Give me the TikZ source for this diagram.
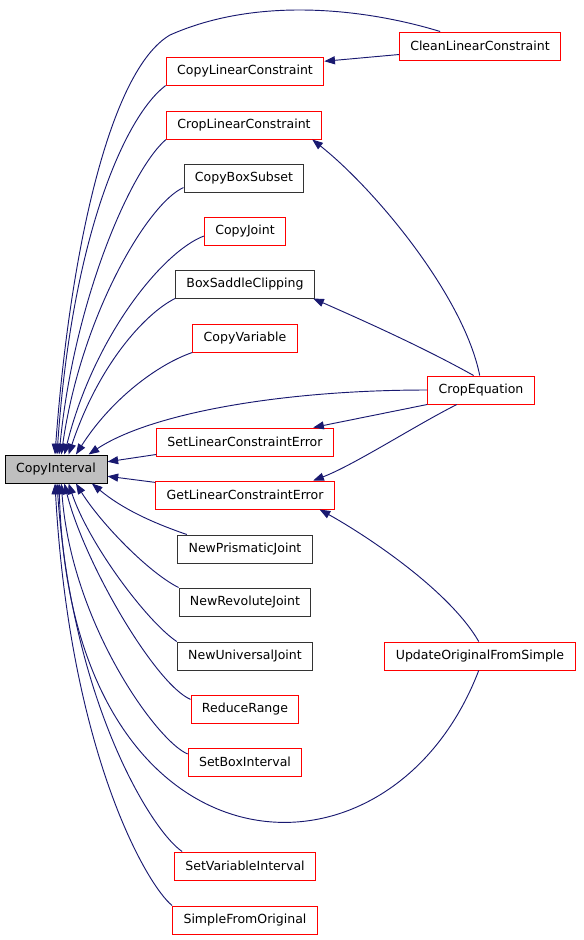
\documentclass[tikz,border=0pt]{standalone}
\usepackage{fontspec}
\setmainfont{DejaVu Sans}
\usetikzlibrary{arrows.meta, positioning}
\definecolor{callblue}{HTML}{191970}
\tikzset{
  >={Triangle[length=8pt,width=6pt]}, % filled doxygen style heads
  func/.style={draw=red, fill=white, rectangle, line width=0.75pt,
    minimum height=21pt, inner xsep=8.2pt,
    font=\fontsize{9.4}{11}\selectfont}, % a caller, red when documented
  plain/.style={func, draw=black!80}, % a caller with no doc page
  call/.style={->, draw=callblue, line width=0.7pt}, % a call edge
}

\begin{document}
\begin{tikzpicture}[x=0.75pt, y=-0.75pt]
  \useasboundingbox (0,0) rectangle (584,940);

  \node[func, draw=black, fill=black!25, minimum width=76.5pt] (copyinterval) at (56,469) {CopyInterval};

  \node[func] (cleanlin) at (480,46) {CleanLinearConstraint};
  \node[func] (copylin) at (245,71) {CopyLinearConstraint};
  \node[func] (croplin) at (244,125) {CropLinearConstraint};
  \node[plain] (copybox) at (244,178) {CopyBoxSubset};
  \node[func] (copyjoint) at (245,231) {CopyJoint};
  \node[plain] (boxsaddle) at (245,284) {BoxSaddleClipping};
  \node[func] (copyvar) at (245,338) {CopyVariable};
  \node[func] (cropeq) at (481,390) {CropEquation};
  \node[func] (setlin) at (245,442) {SetLinearConstraintError};
  \node[func] (getlin) at (245,495) {GetLinearConstraintError};
  \node[plain] (newprism) at (245,549) {NewPrismaticJoint};
  \node[plain] (newrev) at (245,602) {NewRevoluteJoint};
  \node[plain] (newuni) at (245,656) {NewUniversalJoint};
  \node[func] (updsimple) at (480,656) {UpdateOriginalFromSimple};
  \node[func] (reduce) at (245,709) {ReduceRange};
  \node[func] (setbox) at (245,762) {SetBoxInterval};
  \node[func] (setvar) at (245,866) {SetVariableInterval};
  \node[func] (simplefrom) at (245,920) {SimpleFromOriginal};

  % callers above CopyInterval
  \draw[call] (cleanlin.160) .. controls (370,10) and (260,-5) .. (170,35)
    .. controls (110,70) and (70,250) .. (copyinterval.94);
  \draw[call] (copylin.south west) .. controls +(-40,30) and +(15,-220) .. (copyinterval.86);
  \draw[call] (croplin.south west) .. controls +(-35,30) and +(15,-155) .. (copyinterval.78);
  \draw[call] (copybox.189) .. controls +(-35,15) and +(20,-140) .. (copyinterval.70);
  \draw[call] (copyjoint.187) .. controls +(-40,15) and +(30,-120) .. (copyinterval.60);
  \draw[call] (boxsaddle.south west) .. controls +(-30,15) and +(30,-90) .. (copyinterval.49);
  \draw[call] (copyvar.south west) .. controls +(-35,12) and +(35,-55) .. (copyinterval.36);
  \draw[call] (cropeq.west) .. controls +(-150,0) and +(60,-40) .. (copyinterval.24);
  \draw[call] (setlin.188) -- (copyinterval.8);
  \draw[call] (getlin.172) -- (copyinterval.352);

  % callers below CopyInterval
  \draw[call] (newprism.166) .. controls +(-35,-12) and +(30,25) .. (copyinterval.338);
  \draw[call] (newrev.north west) .. controls +(-30,-15) and +(25,40) .. (copyinterval.324);
  \draw[call] (newuni.north west) .. controls +(-30,-20) and +(20,60) .. (copyinterval.311);
  \draw[call] (reduce.170) .. controls +(-35,-15) and +(20,80) .. (copyinterval.300);
  \draw[call] (setbox.172) .. controls +(-30,-12) and +(10,140) .. (copyinterval.290);
  \draw[call] (updsimple.265) .. controls +(-90,235) and +(11,400) .. (copyinterval.282);
  \draw[call] (setvar.167) .. controls +(-30,-20) and +(15,220) .. (copyinterval.274);
  \draw[call] (simplefrom.north west) .. controls +(-25,-20) and +(15,270) .. (copyinterval.266);

  % second level calls
  \draw[call] (cleanlin.186) -- (copylin.7);
  \draw[call] (cropeq.95) .. controls +(-16,-80) and +(62,49) .. (croplin.-12);
  \draw[call] (cropeq.117) .. controls +(-50,-28) and +(50,22) .. (boxsaddle.-12);
  \draw[call] (cropeq.south west) -- (setlin.12);
  \draw[call] (cropeq.211) .. controls +(-40,20) and +(40,-15) .. (getlin.12);
  \draw[call] (updsimple.95) .. controls +(-30,-52) and +(45,25) .. (getlin.-11);
\end{tikzpicture}
\end{document}
